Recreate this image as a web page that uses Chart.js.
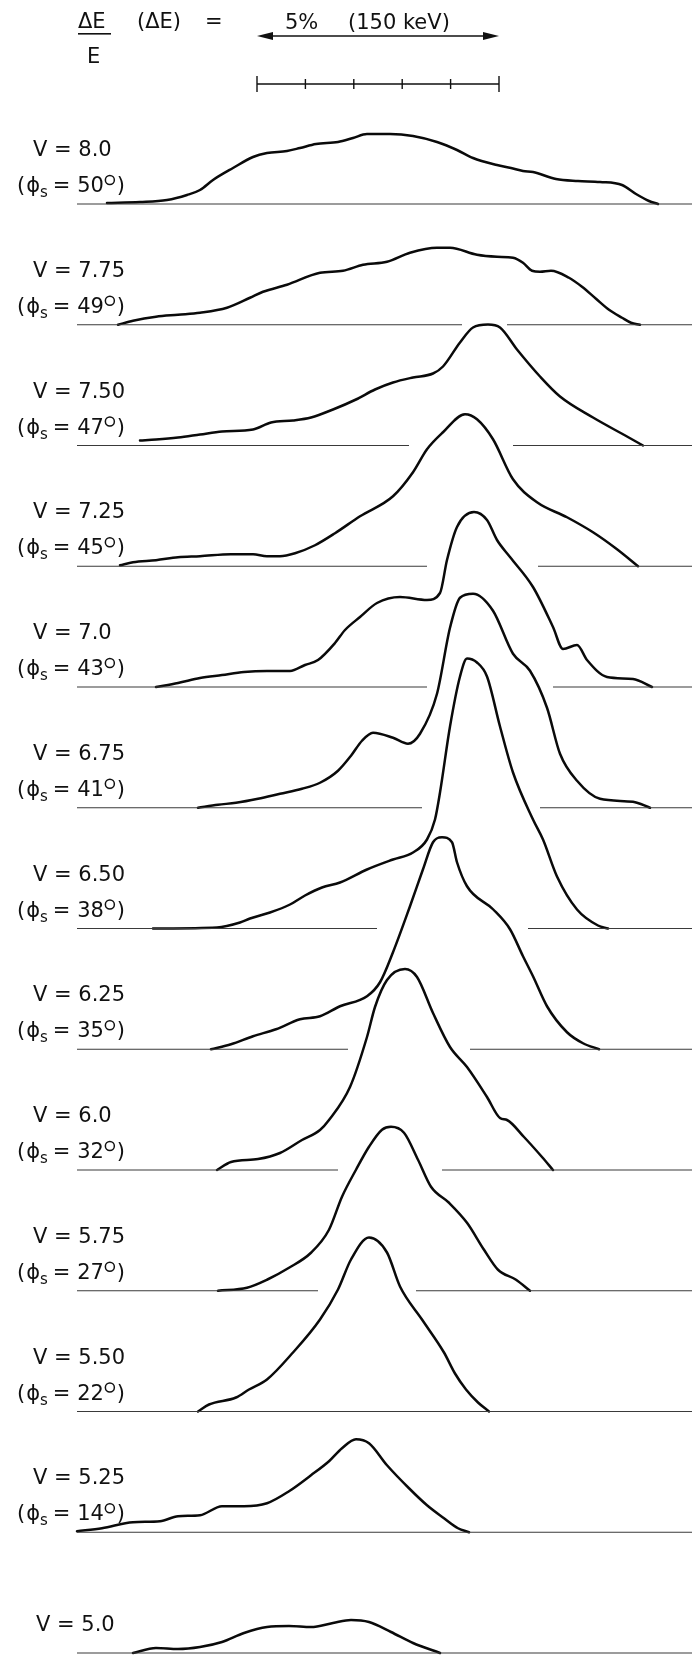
<!DOCTYPE html>
<html lang="en">
<head>
<meta charset="UTF-8">
<title>Energy spectra vs. buncher voltage</title>
<script src="https://cdn.jsdelivr.net/npm/chart.js"></script>
<style>
    body {
        margin: 0;
        background: #fff;
    }

    .wrap {
        position: relative;
        width: 692px;
        height: 1656px;
    }
</style>
</head>
<body>
<div class="wrap"><canvas id="spectra"></canvas></div>

<script>
    // settings, top to bottom
    const voltages = ['8.0', '7.75', '7.50', '7.25', '7.0', '6.75', '6.50', '6.25', '6.0', '5.75', '5.50', '5.25', '5.0'];
    const phaseDeg = [50, 49, 47, 45, 43, 41, 38, 35, 32, 27, 22, 14, null];

    // traces: analyser channel and counts above the trace's own baseline (arb. units)
    const ch800 = [107, 140, 167, 187, 200, 213, 233, 253, 267, 287, 300, 316, 338, 353, 367, 390, 413, 437, 457, 473, 497, 511, 523, 533, 556, 578, 600, 622, 636, 649, 658];
    const n800  = [1, 2, 4, 9, 14, 24, 36, 47, 51, 53, 56, 60, 62, 66, 70, 70, 68, 62, 54, 46, 39, 36, 33, 32, 25, 23, 22, 19, 10, 3, 0];

    const ch775 = [118, 133, 156, 178, 200, 227, 250, 263, 287, 320, 343, 363, 387, 410, 437, 450, 477, 497, 513, 523, 532, 540, 551, 569, 582, 596, 609, 622, 631, 640];
    const n775  = [0, 4, 8, 10, 12, 17, 27, 33, 40, 52, 54, 60, 63, 72, 77, 77, 70, 68, 67, 62, 54, 53, 54, 47, 38, 26, 15, 7, 2, 0];

    const ch750 = [140, 156, 178, 200, 222, 253, 271, 293, 311, 333, 356, 375, 393, 413, 433, 443, 460, 473, 488, 500, 517, 540, 560, 593, 627, 643];
    const n750  = [5, 6, 8, 11, 14, 16, 23, 25, 28, 36, 46, 56, 63, 68, 72, 79, 103, 118, 121, 118, 96, 69, 49, 28, 9, 0];

    const ch725 = [120, 133, 156, 178, 200, 231, 253, 267, 280, 295, 315, 335, 360, 393, 413, 427, 443, 465, 477, 493, 513, 537, 567, 593, 617, 638];
    const n725  = [1, 4, 6, 9, 10, 12, 12, 10, 10, 13, 21, 33, 50, 70, 94, 117, 134, 152, 147, 127, 87, 64, 49, 34, 17, 0];

    const ch700 = [156, 178, 200, 222, 244, 267, 290, 305, 318, 335, 345, 360, 377, 400, 427, 440, 447, 457, 474, 487, 497, 510, 533, 553, 563, 577, 587, 607, 633, 652];
    const n700  = [0, 4, 9, 12, 15, 16, 16, 22, 27, 44, 57, 70, 84, 90, 87, 94, 127, 160, 175, 167, 147, 130, 100, 60, 38, 42, 27, 10, 8, 0];

    const ch675 = [198, 218, 236, 258, 280, 302, 320, 338, 351, 362, 373, 393, 408, 420, 437, 450, 460, 473, 493, 513, 530, 547, 560, 577, 600, 633, 650];
    const n675  = [0, 3, 5, 9, 14, 19, 25, 37, 52, 67, 75, 70, 64, 74, 114, 180, 210, 214, 197, 154, 137, 100, 54, 27, 9, 6, 0];

    const ch650 = [153, 217, 240, 250, 270, 290, 305, 322, 340, 367, 393, 413, 427, 435, 440, 450, 460, 467, 477, 487, 500, 513, 533, 543, 557, 577, 598, 608];
    const n650  = [0, 1, 6, 10, 16, 24, 33, 41, 46, 59, 69, 76, 89, 109, 136, 202, 252, 270, 266, 252, 202, 156, 109, 89, 52, 19, 3, 0];

    const ch625 = [211, 231, 253, 276, 300, 320, 340, 367, 380, 393, 410, 423, 433, 442, 452, 457, 467, 493, 510, 523, 533, 547, 567, 583, 599];
    const n625  = [0, 5, 13, 20, 30, 33, 43, 53, 67, 97, 143, 180, 207, 212, 207, 187, 163, 140, 120, 93, 73, 43, 17, 6, 0];

    const ch600 = [217, 231, 258, 280, 302, 320, 329, 350, 367, 375, 387, 405, 417, 433, 450, 467, 487, 500, 507, 524, 542, 553];
    const n600  = [0, 8, 11, 17, 30, 40, 50, 83, 133, 163, 190, 201, 193, 157, 123, 103, 73, 52, 50, 33, 13, 0];

    const ch575 = [218, 247, 267, 289, 311, 329, 342, 356, 369, 382, 391, 404, 418, 431, 449, 467, 484, 498, 516, 530];
    const n575  = [0, 3, 11, 23, 38, 61, 94, 121, 144, 161, 164, 158, 131, 104, 88, 68, 41, 21, 11, 0];

    const ch550 = [198, 209, 236, 249, 267, 293, 320, 338, 351, 369, 387, 400, 422, 444, 455, 466, 478, 489];
    const n550  = [0, 7, 14, 22, 32, 59, 92, 122, 152, 174, 159, 125, 92, 59, 38, 22, 9, 0];

    const ch525 = [77, 102, 133, 160, 178, 200, 222, 244, 267, 289, 311, 329, 342, 356, 369, 387, 409, 427, 444, 458, 469];
    const n525  = [1, 4, 10, 11, 16, 17, 26, 26, 29, 41, 57, 71, 84, 93, 89, 67, 44, 27, 14, 4, 0];

    const ch500 = [133, 156, 178, 200, 222, 244, 267, 289, 311, 333, 351, 369, 391, 413, 440];
    const n500  = [0, 5, 4, 6, 11, 20, 26, 27, 26, 30, 33, 31, 21, 10, 0];

    // baselines run the full width except where the trace below pokes through
    const gapFrom = [null, 462, 409, 427, 427, 422, 377, 348, 338, 318, null, null, null];
    const gapTo   = [null, 507, 513, 538, 553, 540, 528, 470, 442, 416, null, null, null];
    const baseFrom = 77;
    const baseTo = 692;

    // energy scale: 5 % (150 keV), in 1 % divisions
    const scaleFrom = 257;
    const scaleTo = 499;
    const scaleDivs = 5;

    const STEP = 120.75; // vertical offset between traces

    const traces = [
        [ch800, n800], [ch775, n775], [ch750, n750], [ch725, n725], [ch700, n700],
        [ch675, n675], [ch650, n650], [ch625, n625], [ch600, n600], [ch575, n575],
        [ch550, n550], [ch525, n525], [ch500, n500]
    ];
    const last = traces.length - 1;
    const offsetOf = i => (last - i) * STEP;

    const datasets = [];

    // baselines
    traces.forEach((t, i) => {
        const y = offsetOf(i);
        const segs = gapFrom[i] === null
            ? [[baseFrom, baseTo]]
            : [[baseFrom, gapFrom[i]], [gapTo[i], baseTo]];
        segs.forEach(s => {
            datasets.push({
                data: [{ x: s[0], y: y }, { x: s[1], y: y }],
                borderColor: '#3a3a3a',
                borderWidth: 1.2,
                pointRadius: 0,
                tension: 0
            });
        });
    });

    // spectra
    traces.forEach((t, i) => {
        const y0 = offsetOf(i);
        datasets.push({
            label: 'V = ' + voltages[i],
            data: t[0].map((x, k) => ({ x: x, y: t[1][k] + y0 })),
            borderColor: '#0a0a0a',
            borderWidth: 2.5,
            pointRadius: 0,
            cubicInterpolationMode: 'monotone',
            borderCapStyle: 'round',
            borderJoinStyle: 'round'
        });
    });

    const FONT = '21px "DejaVu Sans", sans-serif';
    const SMALL = '15px "DejaVu Sans", sans-serif';

    const labelsPlugin = {
        id: 'labels',
        afterDraw(chart) {
            const ctx = chart.ctx;
            const xs = chart.scales.x;
            const ys = chart.scales.y;
            ctx.save();
            ctx.fillStyle = '#111';
            ctx.strokeStyle = '#111';
            ctx.textBaseline = 'alphabetic';
            ctx.font = FONT;

            // header: dE/E (dE) = , arrow and scale bar
            ctx.fillText('\u0394E', 78, 28);
            ctx.fillRect(78, 33, 33, 1.6);
            ctx.fillText('E', 87, 63);
            ctx.fillText('(\u0394E)', 137, 28);
            ctx.fillText('=', 205, 28);

            const a = xs.getPixelForValue(scaleFrom);
            const b = xs.getPixelForValue(scaleTo);
            ctx.lineWidth = 1.5;
            ctx.beginPath();
            ctx.moveTo(a + 8, 36);
            ctx.lineTo(b - 8, 36);
            ctx.stroke();
            ctx.beginPath();
            ctx.moveTo(a, 36); ctx.lineTo(a + 16, 32); ctx.lineTo(a + 16, 40); ctx.closePath();
            ctx.moveTo(b, 36); ctx.lineTo(b - 16, 32); ctx.lineTo(b - 16, 40); ctx.closePath();
            ctx.fill();
            ctx.fillText('5%', 285, 29);
            ctx.fillText('(150 keV)', 348, 29);

            ctx.lineWidth = 1.4;
            ctx.beginPath();
            ctx.moveTo(a, 84);
            ctx.lineTo(b, 84);
            for (let k = 0; k <= scaleDivs; k++) {
                const px = xs.getPixelForValue(scaleFrom + (scaleTo - scaleFrom) * k / scaleDivs);
                const end = k === 0 || k === scaleDivs;
                ctx.moveTo(px, end ? 76 : 79);
                ctx.lineTo(px, end ? 92 : 89);
            }
            ctx.stroke();

            // per-trace labels
            voltages.forEach((v, i) => {
                const base = ys.getPixelForValue(offsetOf(i));
                ctx.font = FONT;
                if (phaseDeg[i] === null) {
                    ctx.fillText('V = ' + v, 36, base - 22);
                    return;
                }
                ctx.fillText('V = ' + v, 33, base - 48);

                let x = 17;
                const y = base - 12;
                ctx.fillText('(', x, y);
                x += ctx.measureText('(').width + 1;
                ctx.fillText('\u03D5', x, y);
                x += ctx.measureText('\u03D5').width;
                ctx.font = SMALL;
                ctx.fillText('s', x, y + 5);
                x += ctx.measureText('s').width + 5;
                ctx.font = FONT;
                const t = '= ' + phaseDeg[i];
                ctx.fillText(t, x, y);
                x += ctx.measureText(t).width;
                ctx.lineWidth = 1.5;
                ctx.beginPath();
                ctx.arc(x + 6, y - 12, 4.5, 0, Math.PI * 2);
                ctx.stroke();
                x += 13;
                ctx.fillText(')', x, y);
            });
            ctx.restore();
        }
    };

    new Chart(document.getElementById('spectra'), {
        type: 'line',
        data: { datasets: datasets },
        options: {
            responsive: true,
            maintainAspectRatio: false,
            animation: false,
            parsing: true,
            layout: { autoPadding: false, padding: 0 },
            plugins: {
                legend: { display: false },
                tooltip: { enabled: false }
            },
            scales: {
                x: { type: 'linear', min: 0, max: 692, display: false },
                y: { type: 'linear', min: -3, max: 1653, display: false }
            }
        },
        plugins: [labelsPlugin]
    });
</script>
</body>
</html>
